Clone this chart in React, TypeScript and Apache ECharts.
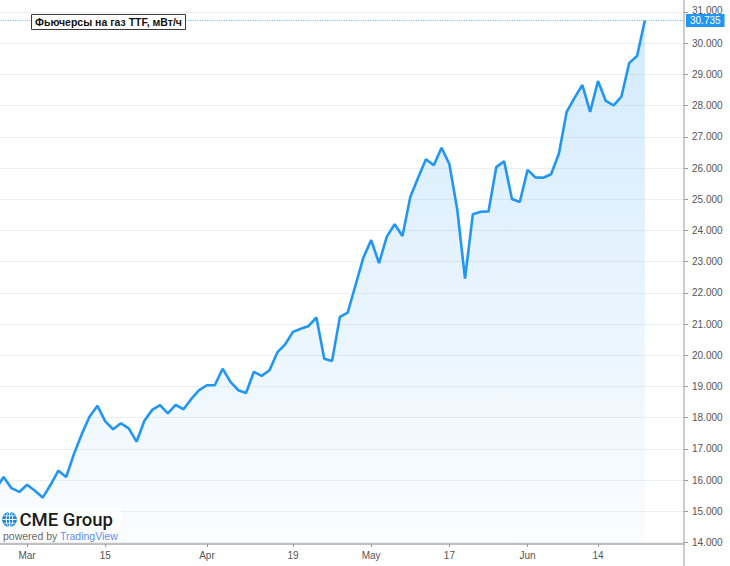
import React, { useEffect, useRef } from "react";
import * as echarts from "echarts";

const dates: string[] = [
  "2021-02-23", "2021-02-24", "2021-02-25", "2021-02-26",
  "2021-03-01", "2021-03-02", "2021-03-03", "2021-03-04", "2021-03-05",
  "2021-03-08", "2021-03-09", "2021-03-10", "2021-03-11", "2021-03-12",
  "2021-03-15", "2021-03-16", "2021-03-17", "2021-03-18", "2021-03-19",
  "2021-03-22", "2021-03-23", "2021-03-24", "2021-03-25", "2021-03-26",
  "2021-03-29", "2021-03-30", "2021-03-31",
  "2021-04-01", "2021-04-05", "2021-04-06", "2021-04-07", "2021-04-08", "2021-04-09",
  "2021-04-12", "2021-04-13", "2021-04-14", "2021-04-15", "2021-04-16",
  "2021-04-19", "2021-04-20", "2021-04-21", "2021-04-22", "2021-04-23",
  "2021-04-26", "2021-04-27", "2021-04-28", "2021-04-29", "2021-04-30",
  "2021-05-03", "2021-05-04", "2021-05-05", "2021-05-06", "2021-05-07",
  "2021-05-10", "2021-05-11", "2021-05-12", "2021-05-13", "2021-05-14",
  "2021-05-17", "2021-05-18", "2021-05-19", "2021-05-20", "2021-05-21",
  "2021-05-24", "2021-05-25", "2021-05-26", "2021-05-27", "2021-05-28",
  "2021-06-01", "2021-06-02", "2021-06-03", "2021-06-04",
  "2021-06-07", "2021-06-08", "2021-06-09", "2021-06-10", "2021-06-11",
  "2021-06-14", "2021-06-15", "2021-06-16", "2021-06-17", "2021-06-18",
  "2021-06-21", "2021-06-22",
  "2021-06-23", "2021-06-24", "2021-06-25", "2021-06-28", "2021-06-29",
];

const prices: number[] = [
  15.73, 16.1, 15.74, 15.62,
  15.85, 15.66, 15.44, 15.85, 16.3,
  16.1, 16.84, 17.48, 18.04, 18.38,
  17.88, 17.63, 17.82, 17.66, 17.23,
  17.9, 18.25, 18.4, 18.14, 18.41,
  18.27, 18.6, 18.88,
  19.04, 19.04, 19.57, 19.15, 18.88, 18.79,
  19.47, 19.34, 19.52, 20.09, 20.35,
  20.75, 20.85, 20.94, 21.21, 19.89,
  19.82, 21.23, 21.37, 22.25, 23.13,
  23.69, 22.95, 23.8, 24.2, 23.82,
  25.07, 25.69, 26.28, 26.09, 26.65,
  26.12, 24.68, 22.46, 24.52, 24.6,
  24.61, 26.03, 26.22, 25.01, 24.91,
  25.94, 25.7, 25.69, 25.8,
  26.46, 27.8, 28.25, 28.66, 27.8,
  28.79, 28.15, 28.01, 28.29, 29.37,
  29.59, 30.735,
];

const tickLabels: Record<string, string> = {
  "2021-03-01": "Mar",
  "2021-03-15": "15",
  "2021-04-01": "Apr",
  "2021-04-19": "19",
  "2021-05-03": "May",
  "2021-05-17": "17",
  "2021-06-01": "Jun",
  "2021-06-14": "14",
};

const yMin = 14;
const yMax = 31;
const yStep = 1;

const title = "Фьючерсы на газ TTF, мВт/ч";
const lastPrice = prices[prices.length - 1];

export default function App() {
  const ref = useRef<HTMLDivElement>(null);
  useEffect(() => {
    document.body.style.margin = "0";
    if (!ref.current) return;
    const chart = echarts.init(ref.current, null, { renderer: "svg" });
    const font = "Liberation Sans, Arial, sans-serif";
    const showTick = (_i: number, v: string) => v in tickLabels;
    chart.setOption({
      animation: false,
      backgroundColor: "#ffffff",
      textStyle: { fontFamily: font },
      title: {
        text: title,
        left: 31,
        top: 14,
        padding: [2, 4, 2, 4],
        borderColor: "#3a3a3a",
        borderWidth: 1,
        backgroundColor: "#ffffff",
        textStyle: {
          fontFamily: font,
          fontSize: 10.5,
          fontWeight: "bold",
          color: "#111111",
          lineHeight: 12,
        },
        z: 10,
      },
      grid: {
        left: -4.2,
        right: 46,
        top: 12,
        bottom: 23.5,
        outerBoundsMode: "none",
        containLabel: false,
      },
      xAxis: {
        type: "category",
        data: dates,
        boundaryGap: false,
        offset: 1.5,
        axisLine: { show: true, lineStyle: { color: "#ababab", width: 1.6 } },
        axisTick: {
          show: true,
          interval: showTick,
          length: 3,
          lineStyle: { color: "#9a9a9a", width: 1 },
        },
        axisLabel: {
          interval: showTick,
          formatter: (v: string) => tickLabels[v] || "",
          color: "#555555",
          fontSize: 10,
          margin: 6,
          fontFamily: font,
        },
        splitLine: { show: false },
      },
      yAxis: {
        type: "value",
        position: "right",
        min: yMin,
        max: yMax,
        interval: yStep,
        axisLine: { show: false },
        axisTick: { show: true, length: 4, lineStyle: { color: "#9a9a9a" } },
        axisLabel: {
          color: "#555555",
          fontSize: 10,
          margin: 8,
          lineHeight: 10,
          fontFamily: font,
          formatter: (v: number) =>
            v === yMax ? "{t|" + v.toFixed(3) + "}" : v.toFixed(3),
          rich: {
            t: {
              color: "#555555",
              fontSize: 10,
              lineHeight: 10,
              fontFamily: font,
              padding: [0, 0, 3, 0],
            },
          },
        },
        splitLine: { show: true, lineStyle: { color: "#efefef", width: 1 } },
      },
      series: [
        {
          type: "line",
          data: prices,
          symbol: "none",
          lineStyle: { color: "#2196f3", width: 2.6 },
          itemStyle: { color: "#2196f3" },
          areaStyle: {
            color: new echarts.graphic.LinearGradient(0, 0, 0, 1, [
              { offset: 0, color: "rgba(33,150,243,0.28)" },
              { offset: 1, color: "rgba(33,150,243,0.03)" },
            ]),
          },
          markLine: {
            silent: true,
            symbol: "none",
            data: [{ yAxis: lastPrice }],
            lineStyle: { color: "#7cbcf3", type: "dotted", width: 1.2 },
            label: {
              show: true,
              position: "end",
              distance: 2,
              formatter: () => lastPrice.toFixed(3),
              color: "#ffffff",
              backgroundColor: "#2196f3",
              padding: [2, 4, 1, 4],
              fontSize: 10,
              fontFamily: font,
              lineHeight: 10,
            },
            z: 5,
          },
          z: 3,
        },
      ],
      graphic: [
        {
          type: "line",
          shape: { x1: 684, y1: 0, x2: 684, y2: 566 },
          style: { stroke: "#ababab", lineWidth: 1.2 },
          z: 20,
        },
        {
          type: "rect",
          shape: { x: 0, y: 507, width: 121, height: 34 },
          style: { fill: "rgba(255,255,255,0.75)" },
          z: 20,
        },
        {
          type: "circle",
          shape: { cx: 9.5, cy: 519.5, r: 7.4 },
          style: { fill: "#1e86d2" },
          z: 21,
        },
        {
          type: "ellipse",
          shape: { cx: 9.5, cy: 519.5, rx: 3.2, ry: 7.4 },
          style: { fill: "none", stroke: "#ffffff", lineWidth: 0.9 },
          z: 22,
        },
        {
          type: "line",
          shape: { x1: 9.5, y1: 512.1, x2: 9.5, y2: 526.9 },
          style: { stroke: "#ffffff", lineWidth: 0.9 },
          z: 22,
        },
        {
          type: "line",
          shape: { x1: 2.3, y1: 519.5, x2: 16.7, y2: 519.5 },
          style: { stroke: "#ffffff", lineWidth: 0.9 },
          z: 22,
        },
        {
          type: "line",
          shape: { x1: 3.5, y1: 515.8, x2: 15.5, y2: 515.8 },
          style: { stroke: "#ffffff", lineWidth: 0.8 },
          z: 22,
        },
        {
          type: "line",
          shape: { x1: 3.5, y1: 523.2, x2: 15.5, y2: 523.2 },
          style: { stroke: "#ffffff", lineWidth: 0.8 },
          z: 22,
        },
        {
          type: "text",
          x: 19.5,
          y: 520,
          style: {
            text: "CME Group",
            fill: "#1c1c1c",
            font: "500 18.5px Roboto, Liberation Sans, sans-serif",
            textVerticalAlign: "middle",
          },
          z: 22,
        },
        {
          type: "text",
          x: 3,
          y: 535.5,
          style: {
            text: "powered by",
            fill: "#6a6a6a",
            font: "10.5px Liberation Sans, Arial, sans-serif",
            textVerticalAlign: "middle",
          },
          z: 22,
        },
        {
          type: "text",
          x: 60,
          y: 535.5,
          style: {
            text: "TradingView",
            fill: "#5b8ff0",
            font: "10.5px Liberation Sans, Arial, sans-serif",
            textVerticalAlign: "middle",
          },
          z: 22,
        },
      ],
    });
    return () => chart.dispose();
  }, []);
  return (
    <div
      ref={ref}
      style={{ position: "absolute", left: 0, top: 0, width: 730, height: 566 }}
    />
  );
}
